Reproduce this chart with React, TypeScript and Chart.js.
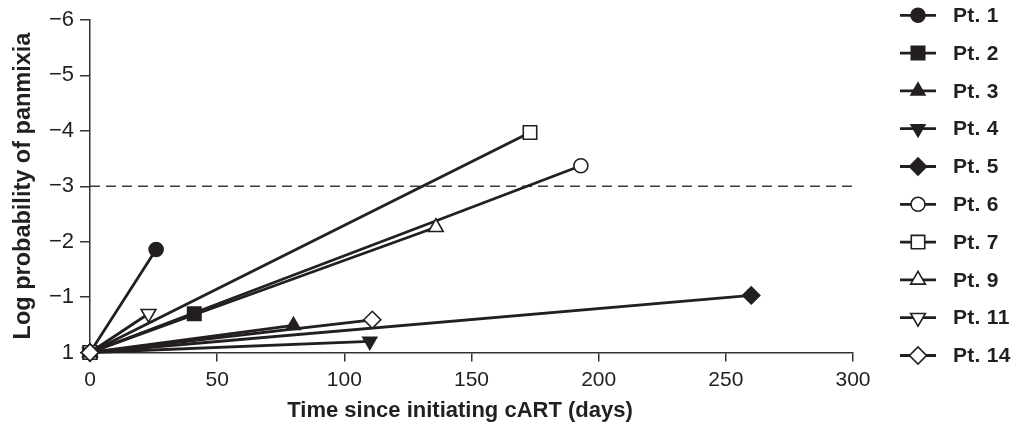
import React, { useEffect, useRef } from "react";
import { Chart, registerables } from "chart.js";
import * as helpers from "chart.js/helpers";

Chart.register(...registerables);

// ---- data ----
const patients = ["Pt. 1", "Pt. 2", "Pt. 3", "Pt. 4", "Pt. 5", "Pt. 6", "Pt. 7", "Pt. 9", "Pt. 11", "Pt. 14"];
const startDay = 0;
const startLogP = 0;
const endDays = [26, 41, 80, 110, 260, 193, 173, 136, 23, 111];
const endLogP = [-1.86, -0.7, -0.49, -0.2, -1.03, -3.37, -3.97, -2.26, -0.7, -0.59];
const thresholdLogP = -3;
const xTicks = [0, 50, 100, 150, 200, 250, 300];
const yTicks = [-6, -5, -4, -3, -2, -1, 0];
const yTickLabels = ["\u22126", "\u22125", "\u22124", "\u22123", "\u22122", "\u22121", "1"];
const xTitle = "Time since initiating cART (days)";
const yTitle = "Log probability of panmixia";

// ---- styles ----
const INK = "#231f20";
const FONT = "'Liberation Sans', Arial, sans-serif";
const markerStyles = ["circle", "rect", "triangle", "triangle", "rectRot", "circle", "rect", "triangle", "triangle", "rectRot"];
const markerRotation = [0, 0, 0, 180, 0, 0, 0, 0, 180, 0];
const markerFilled = [true, true, true, true, true, false, false, false, false, false];
const markerRadius = [7, 9.5, 8, 8, 8.5, 7, 9.5, 8.5, 8.5, 8.5];

const decorPlugin = {
  id: "decor",
  afterDraw(chart: any) {
    const ctx = chart.ctx;
    ctx.save();
    // axis titles
    ctx.fillStyle = INK;
    ctx.textAlign = "center";
    ctx.textBaseline = "alphabetic";
    ctx.font = `bold 22px ${FONT}`;
    ctx.fillText(xTitle, 460, 417);
    ctx.save();
    ctx.translate(30, 186);
    ctx.rotate(-Math.PI / 2);
    ctx.font = `bold 23.5px ${FONT}`;
    ctx.fillText(yTitle, 0, 0);
    ctx.restore();
    // legend
    const x0 = 900, x1 = 936, xm = 918, tx = 953;
    patients.forEach((name, i) => {
      const y = 15.3 + i * 37.8;
      ctx.strokeStyle = INK;
      ctx.lineWidth = 2.8;
      ctx.setLineDash([]);
      ctx.beginPath();
      ctx.moveTo(x0, y);
      ctx.lineTo(x1, y);
      ctx.stroke();
      ctx.fillStyle = markerFilled[i] ? INK : "#ffffff";
      ctx.strokeStyle = INK;
      ctx.lineWidth = 1.6;
      helpers.drawPoint(ctx, { pointStyle: markerStyles[i], rotation: markerRotation[i], radius: markerRadius[i], borderWidth: 1.6 }, xm, y);
      ctx.fillStyle = INK;
      ctx.font = `bold 21px ${FONT}`;
      (ctx as any).letterSpacing = "0.3px";
      ctx.textBaseline = "middle";
      ctx.textAlign = "left";
      ctx.fillText(name, tx, y + 1);
      (ctx as any).letterSpacing = "0px";
    });
    ctx.restore();
  },
};

export default function App() {
  const ref = useRef<HTMLCanvasElement>(null);
  useEffect(() => {
    if (!ref.current) return;
    const datasets: any[] = [
      {
        label: "threshold",
        data: [
          { x: xTicks[0], y: thresholdLogP },
          { x: xTicks[xTicks.length - 1], y: thresholdLogP },
        ],
        borderColor: "#3a3a3a",
        borderWidth: 1.6,
        borderDash: [10, 6],
        pointRadius: 0,
        order: 100,
      },
      ...patients.map((name, i) => ({
        label: name,
        data: [
          { x: startDay, y: startLogP },
          { x: endDays[i], y: endLogP[i] },
        ],
        borderColor: INK,
        borderWidth: 2.8,
        pointStyle: markerStyles[i],
        pointRotation: markerRotation[i],
        pointRadius: markerRadius[i],
        pointBackgroundColor: markerFilled[i] ? INK : "#ffffff",
        pointBorderColor: INK,
        pointBorderWidth: 1.6,
        clip: false,
        order: patients.length - i,
      })),
    ];
    const chart = new Chart(ref.current, {
      type: "line",
      data: { datasets },
      options: {
        animation: false,
        responsive: false,
        devicePixelRatio: 1,
        layout: { padding: { top: 20, right: 166, left: 0, bottom: 0 } },
        plugins: { legend: { display: false }, tooltip: { enabled: false } },
        elements: { line: { tension: 0 } },
        scales: {
          x: {
            type: "linear",
            min: 0,
            max: 300,
            afterBuildTicks: (s: any) => {
              s.ticks = xTicks.map((v) => ({ value: v }));
            },
            afterFit: (s: any) => {
              s.height = 78.5;
            },
            ticks: { color: INK, font: { family: FONT, size: 21 }, padding: 6, maxRotation: 0 },
            grid: { drawOnChartArea: false, drawTicks: true, tickLength: 9, color: "#333", lineWidth: 1.5 },
            border: { display: true, color: "#333", width: 1.5 },
            title: { display: false },
          },
          y: {
            type: "linear",
            min: -6,
            max: 0,
            reverse: true,
            afterBuildTicks: (s: any) => {
              s.ticks = yTicks.map((v) => ({ value: v }));
            },
            afterFit: (s: any) => {
              s.width = 90;
            },
            ticks: {
              color: INK,
              font: { family: FONT, size: 22 },
              padding: 6,
              callback: (v: any) => {
                const k = yTicks.indexOf(Number(v));
                return k >= 0 ? yTickLabels[k] : "";
              },
            },
            grid: { drawOnChartArea: false, drawTicks: true, tickLength: 10, color: "#333", lineWidth: 1.5 },
            border: { display: true, color: "#333", width: 1.5 },
            title: { display: false },
          },
        },
      },
      plugins: [decorPlugin],
    });
    return () => chart.destroy();
  }, []);
  return (
    <div style={{ position: "fixed", left: 0, top: 0, width: 1019, height: 431, background: "#fff" }}>
      <canvas ref={ref} width={1019} height={431} style={{ display: "block" }} />
    </div>
  );
}
